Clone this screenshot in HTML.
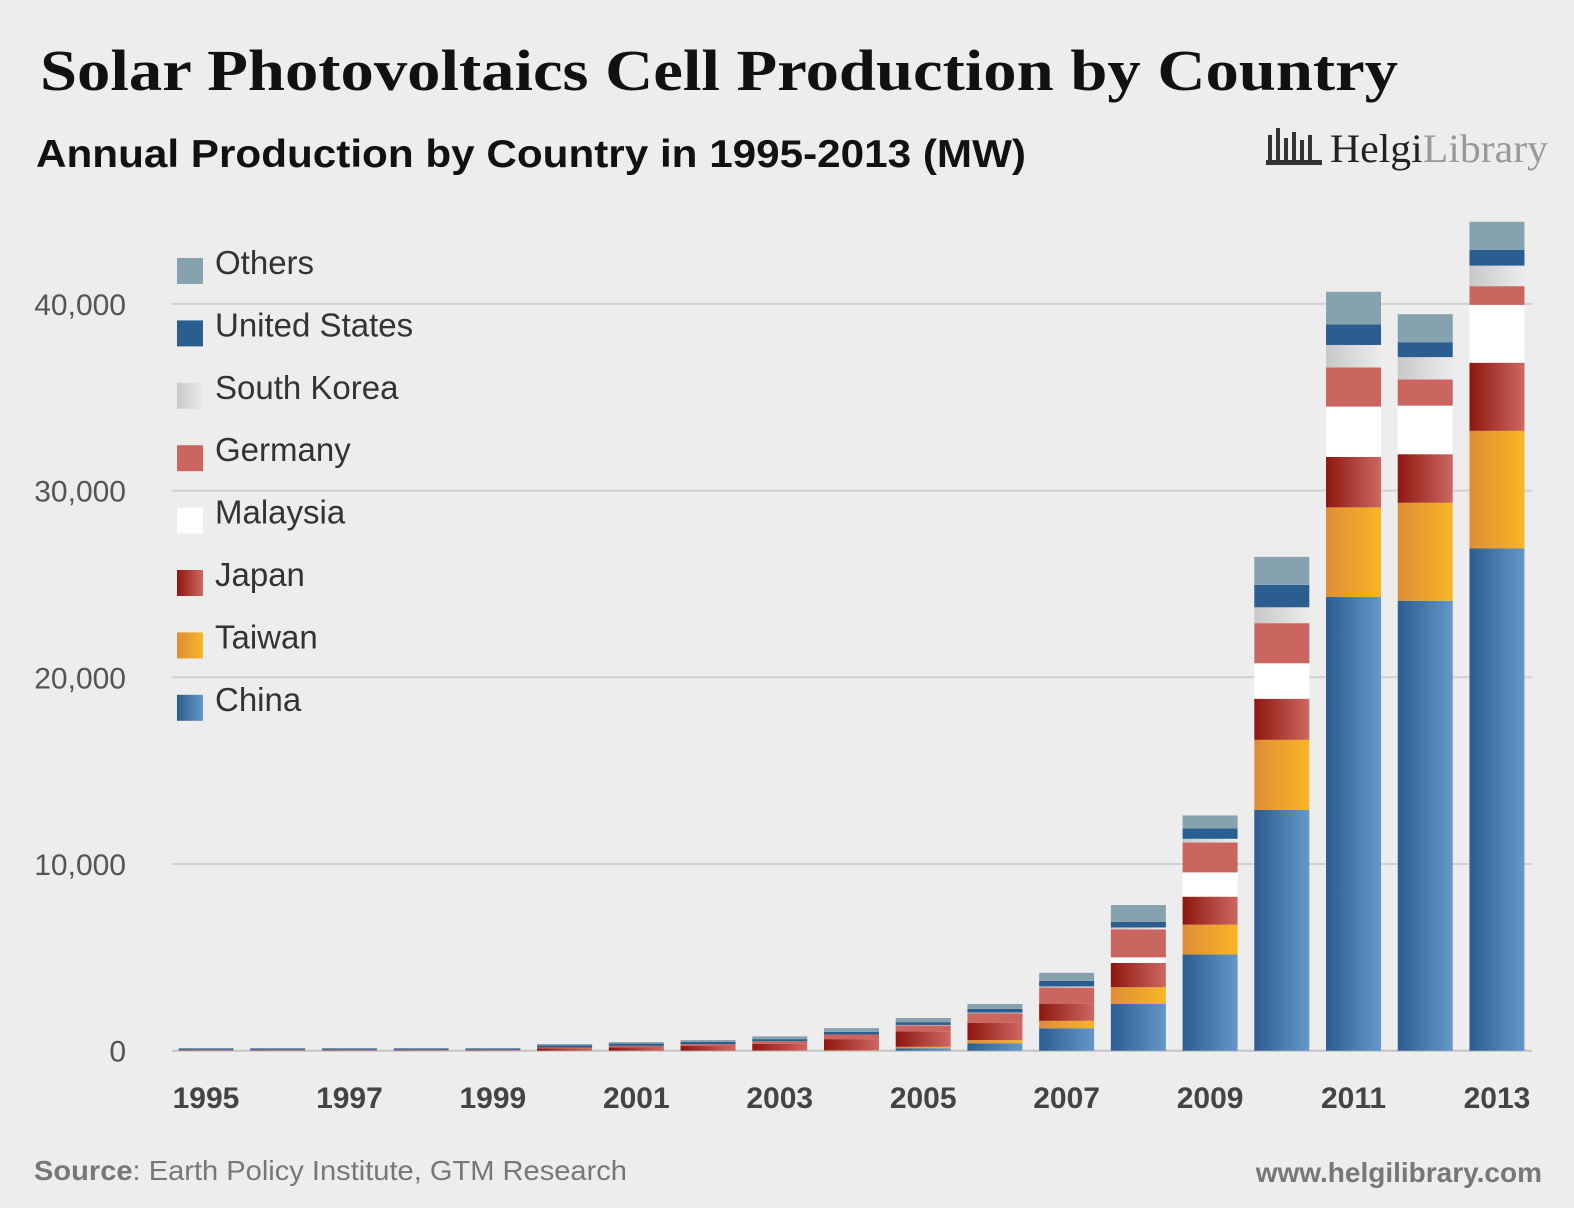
<!DOCTYPE html>
<html><head><meta charset="utf-8"><style>
body{margin:0;background:#ededed;}
svg{display:block;font-family:"Liberation Sans",sans-serif;}
</style></head><body>
<svg id="chart" width="1574" height="1208" viewBox="0 0 1574 1208" xmlns="http://www.w3.org/2000/svg">
<defs>
<linearGradient id="gChina" x1="0" x2="1"><stop offset="0" stop-color="#2c5d91"/><stop offset="1" stop-color="#6597c9"/></linearGradient>
<linearGradient id="gTaiwan" x1="0" x2="1"><stop offset="0" stop-color="#df8d37"/><stop offset="1" stop-color="#f7b625"/></linearGradient>
<linearGradient id="gJapan" x1="0" x2="1"><stop offset="0" stop-color="#8f1610"/><stop offset="1" stop-color="#cd6862"/></linearGradient>
<linearGradient id="gKorea" x1="0" x2="1"><stop offset="0" stop-color="#c8c8c8"/><stop offset="1" stop-color="#ececec"/></linearGradient>
</defs>
<rect width="1574" height="1208" fill="#ededed"/>
<text x="40" y="90" font-family="Liberation Serif,serif" font-weight="bold" font-size="58" fill="#111" textLength="1358" lengthAdjust="spacingAndGlyphs">Solar Photovoltaics Cell Production by Country</text>
<text x="36" y="167" font-weight="bold" font-size="39" fill="#111" textLength="990" lengthAdjust="spacingAndGlyphs">Annual Production by Country in 1995-2013 (MW)</text>
<g>
<rect x="1268" y="135" width="4" height="30" fill="#333"/><rect x="1276" y="128" width="4" height="37" fill="#333"/><rect x="1284" y="138" width="4" height="27" fill="#333"/><rect x="1292" y="132" width="4" height="33" fill="#333"/><rect x="1300" y="140" width="4" height="25" fill="#333"/><rect x="1308" y="135" width="4" height="30" fill="#333"/><rect x="1266" y="160" width="56" height="5" fill="#333"/>
<text x="1330" y="162" font-family="Liberation Serif,serif" font-size="40" fill="#222" textLength="218" lengthAdjust="spacingAndGlyphs">Helgi<tspan fill="#999">Library</tspan></text>
</g>
<g id="grid"></g><g id="bars"></g><g id="legend"></g>
<text x="34" y="1180" font-size="28" fill="#777" textLength="593" lengthAdjust="spacingAndGlyphs"><tspan font-weight="bold">Source</tspan>: Earth Policy Institute, GTM Research</text>
<text x="1542" y="1182" text-anchor="end" font-weight="bold" font-size="28" fill="#777">www.helgilibrary.com</text>
</svg>
<script>
const years=[1995,1996,1997,1998,1999,2000,2001,2002,2003,2004,2005,2006,2007,2008,2009,2010,2011,2012,2013];
const seriesNames=["China","Taiwan","Japan","Malaysia","Germany","South Korea","United States","Others"];
const china=[0,0,0,0,0,0,0,0,0,0,130,400,1200,2500,5150,12900,24300,24100,26900];
const taiwan=[0,0,0,0,0,0,0,0,10,20,80,170,400,900,1600,3750,4800,5250,6300];
const japan=[20,20,20,20,20,130,170,250,360,600,830,930,920,1300,1500,2200,2700,2600,3650];
const malaysia=[0,0,0,0,0,0,0,0,0,0,0,0,0,300,1300,1900,2700,2600,3100];
const germany=[30,30,30,30,30,40,90,100,140,250,320,510,860,1500,1600,2150,2100,1400,1000];
const korea=[0,0,0,0,0,0,0,0,0,0,20,30,60,100,200,850,1200,1200,1100];
const usa=[70,70,70,70,70,110,120,120,110,140,150,200,300,300,550,1200,1100,800,850];
const others=[10,10,10,10,10,80,80,100,150,200,220,260,430,900,700,1500,1750,1500,1500];
const yTicks=[0,10000,20000,30000,40000];
const yTickLabels=["0","10,000","20,000","30,000","40,000"];
const series=[china,taiwan,japan,malaysia,germany,korea,usa,others];
const fills=["url(#gChina)","url(#gTaiwan)","url(#gJapan)","#ffffff","#cb6560","url(#gKorea)","#2b5e90","#86a2ae"];
const NS="http://www.w3.org/2000/svg";
const y0=1050.7, pxPer=186.7/10000;
const yScale=v=>y0-v*pxPer;
const xScale=i=>206+i*71.72;
const bw=55;
function mk(tag,attrs,parent){const e=document.createElementNS(NS,tag);for(const k in attrs)e.setAttribute(k,attrs[k]);parent.appendChild(e);return e;}
const grid=document.getElementById('grid');
yTicks.forEach((t,i)=>{
  const l=mk('line',{x1:172,x2:1532,y1:yScale(t),y2:yScale(t),stroke:i==0?'#c4c4c4':'#d0d0d0','stroke-width':2},grid);
  
  
  const tx=mk('text',{x:126,y:yScale(t)+11,'text-anchor':'end','font-size':30,fill:'#555'},grid);
  tx.textContent=yTickLabels[i];
  
  
});
const bars=document.getElementById('bars');
years.forEach((yr,i)=>{
  let acc=0;const g=mk('g',{},bars);
  
  
  series.forEach((s,k)=>{
    const v=s[i];if(v<=0)return;
    const r=mk('rect',{x:xScale(i)-bw/2,y:yScale(acc+v),width:bw,height:v*pxPer,fill:fills[k]},g);
    
    
    acc+=v;
  });
  if(i%2==0){
    const t=mk('text',{x:xScale(i),y:1108,'text-anchor':'middle','font-size':30,'font-weight':'bold',fill:'#444'},bars);
    t.textContent=yr;
    
    
  }
});
const legend=document.getElementById('legend');
for(let j=0;j<8;j++){
  const k=7-j, cy=264+j*62.4;
  const g=mk('g',{},legend);
  
  
  mk('rect',{x:177,y:cy-6,width:26,height:26,fill:fills[k]},g);
  const t=mk('text',{x:215,y:cy+10,'font-size':33,fill:'#333'},g);
  t.textContent=seriesNames[k];
}
</script>
</body></html>
